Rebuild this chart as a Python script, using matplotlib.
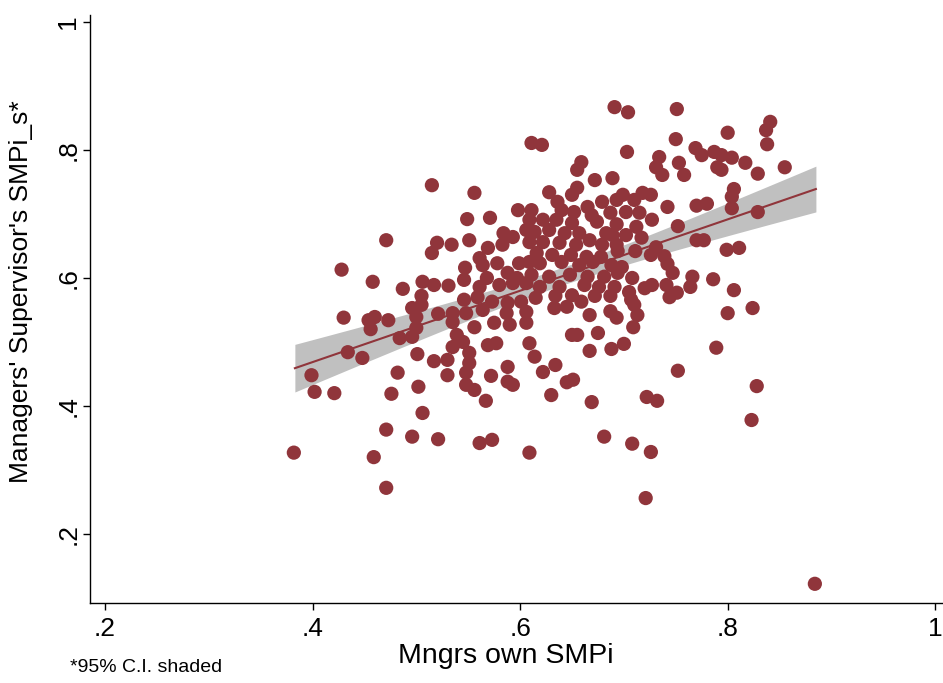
import numpy as np
import matplotlib
matplotlib.use('Agg')
import matplotlib.pyplot as plt

### Data #####################################################################
# Mngrs own SMPi (x) and Managers' Supervisor's SMPi_s (y)
smpi_own = [0.471, 0.428, 0.458, 0.487, 0.506, 0.517, 0.515, 0.520, 0.505, 0.496,
            0.505, 0.430, 0.460, 0.454, 0.456, 0.473, 0.500, 0.521, 0.500, 0.496,
            0.484, 0.434, 0.448, 0.501, 0.517, 0.399, 0.482, 0.402, 0.421, 0.476,
            0.502, 0.506, 0.471, 0.496, 0.521, 0.382, 0.459, 0.471,
            0.556, 0.549, 0.571, 0.598, 0.611, 0.609, 0.606, 0.584, 0.593, 0.583,
            0.609, 0.534, 0.551, 0.569, 0.561, 0.564, 0.578, 0.599, 0.609, 0.547,
            0.546, 0.568, 0.588, 0.597, 0.611, 0.531, 0.561, 0.580, 0.593, 0.606,
            0.546, 0.559, 0.573, 0.588, 0.601, 0.535, 0.548, 0.564, 0.587, 0.606,
            0.515,
            0.535, 0.556, 0.575, 0.590, 0.606, 0.539, 0.545, 0.535, 0.569, 0.577,
            0.609, 0.614, 0.530, 0.551, 0.551, 0.548, 0.530, 0.572, 0.588, 0.588,
            0.593, 0.548, 0.556, 0.567, 0.561, 0.573, 0.609,
            0.611, 0.621, 0.659, 0.655, 0.672, 0.689, 0.628, 0.655, 0.650, 0.636,
            0.679, 0.665, 0.693, 0.640, 0.652, 0.669, 0.687, 0.622, 0.635, 0.650,
            0.674, 0.693, 0.614, 0.628, 0.643, 0.657, 0.683, 0.622, 0.638, 0.654,
            0.667, 0.679, 0.693, 0.616, 0.631, 0.649, 0.664, 0.678, 0.619, 0.640,
            0.657, 0.670, 0.688, 0.628, 0.648, 0.665, 0.681, 0.694, 0.619, 0.638,
            0.662, 0.676, 0.691, 0.615, 0.634, 0.650, 0.672, 0.687,
            0.659, 0.645, 0.633, 0.667, 0.687, 0.693, 0.650, 0.655, 0.675, 0.667,
            0.688, 0.634, 0.622, 0.645, 0.651, 0.630, 0.669, 0.681,
            0.691, 0.704, 0.751, 0.750, 0.703, 0.734, 0.731, 0.737, 0.753, 0.758,
            0.769, 0.699, 0.718, 0.726, 0.710, 0.742, 0.770, 0.715, 0.727, 0.702,
            0.712, 0.752, 0.689, 0.702, 0.717, 0.731, 0.694, 0.711, 0.726, 0.739,
            0.742, 0.698, 0.708, 0.747, 0.766, 0.705, 0.720, 0.727, 0.741, 0.751,
            0.744, 0.764, 0.707, 0.710, 0.713, 0.709, 0.700, 0.752, 0.722, 0.732,
            0.708, 0.726, 0.721,
            0.841, 0.837, 0.838, 0.800, 0.775, 0.787, 0.794, 0.790, 0.794, 0.804,
            0.817, 0.829, 0.806, 0.804, 0.804, 0.780, 0.829, 0.770, 0.777, 0.799,
            0.811, 0.786, 0.806, 0.800, 0.824, 0.789, 0.828, 0.823, 0.855, 0.884]

smpi_sup = [0.659, 0.613, 0.594, 0.583, 0.594, 0.589, 0.639, 0.655, 0.572, 0.553,
            0.558, 0.538, 0.539, 0.534, 0.520, 0.534, 0.539, 0.544, 0.522, 0.508,
            0.506, 0.484, 0.475, 0.481, 0.470, 0.448, 0.452, 0.422, 0.420, 0.419,
            0.430, 0.389, 0.363, 0.352, 0.348, 0.327, 0.320, 0.272,
            0.733, 0.692, 0.694, 0.706, 0.706, 0.691, 0.675, 0.670, 0.664, 0.652,
            0.656, 0.652, 0.659, 0.647, 0.631, 0.620, 0.623, 0.623, 0.625, 0.616,
            0.597, 0.600, 0.608, 0.600, 0.605, 0.588, 0.586, 0.589, 0.592, 0.592,
            0.566, 0.570, 0.563, 0.561, 0.563, 0.545, 0.545, 0.550, 0.545, 0.547,
            0.745,
            0.531, 0.523, 0.530, 0.527, 0.530, 0.511, 0.500, 0.492, 0.495, 0.498,
            0.498, 0.477, 0.472, 0.483, 0.467, 0.452, 0.448, 0.447, 0.461, 0.438,
            0.433, 0.433, 0.425, 0.408, 0.342, 0.347, 0.327,
            0.811, 0.808, 0.781, 0.769, 0.753, 0.756, 0.734, 0.741, 0.730, 0.719,
            0.719, 0.711, 0.722, 0.706, 0.703, 0.698, 0.702, 0.691, 0.691, 0.686,
            0.688, 0.684, 0.672, 0.675, 0.670, 0.670, 0.670, 0.656, 0.655, 0.652,
            0.659, 0.652, 0.652, 0.639, 0.636, 0.636, 0.633, 0.633, 0.623, 0.625,
            0.620, 0.625, 0.620, 0.602, 0.605, 0.602, 0.602, 0.608, 0.586, 0.586,
            0.589, 0.586, 0.586, 0.569, 0.572, 0.573, 0.572, 0.572,
            0.563, 0.555, 0.553, 0.542, 0.548, 0.538, 0.511, 0.511, 0.514, 0.486,
            0.489, 0.464, 0.453, 0.437, 0.441, 0.417, 0.406, 0.352,
            0.867, 0.859, 0.864, 0.817, 0.797, 0.789, 0.773, 0.761, 0.780, 0.761,
            0.803, 0.730, 0.733, 0.730, 0.722, 0.711, 0.713, 0.702, 0.691, 0.703,
            0.680, 0.681, 0.667, 0.667, 0.663, 0.648, 0.642, 0.642, 0.636, 0.634,
            0.622, 0.617, 0.600, 0.608, 0.602, 0.578, 0.584, 0.589, 0.589, 0.577,
            0.570, 0.586, 0.566, 0.558, 0.542, 0.523, 0.497, 0.455, 0.414, 0.408,
            0.341, 0.328, 0.256,
            0.844, 0.831, 0.809, 0.827, 0.792, 0.797, 0.792, 0.773, 0.769, 0.788,
            0.780, 0.763, 0.739, 0.727, 0.709, 0.716, 0.703, 0.659, 0.659, 0.644,
            0.647, 0.598, 0.581, 0.545, 0.553, 0.491, 0.431, 0.378, 0.773, 0.122]

# fitted line (ends of the lfit line)
fit_x = [0.383, 0.885]
fit_y = [0.459, 0.739]

xtick_vals = [0.2, 0.4, 0.6, 0.8, 1.0]
xtick_labels = ['.2', '.4', '.6', '.8', '1']
ytick_vals = [0.2, 0.4, 0.6, 0.8, 1.0]
ytick_labels = ['.2', '.4', '.6', '.8', '1']

### 95% CI band around the fit (like Stata lfitci) ############################
x = np.array(smpi_own)
y = np.array(smpi_sup)
n = len(x)
b = (fit_y[1] - fit_y[0]) / (fit_x[1] - fit_x[0])
a = fit_y[0] - b * fit_x[0]
resid = y - (a + b * x)
s = np.sqrt(np.sum(resid ** 2) / (n - 2))
sxx = np.sum((x - x.mean()) ** 2)
t_crit = 1.97

xg = np.linspace(fit_x[0], fit_x[1], 100)
yg = a + b * xg
se = s * np.sqrt(1.0 / n + (xg - x.mean()) ** 2 / sxx)

### Plot ######################################################################
plt.rcParams['font.family'] = ['Liberation Sans', 'DejaVu Sans']
fig = plt.figure(figsize=(9.43, 6.83), dpi=100)
ax = fig.add_axes([90 / 943, 80 / 683, 852 / 943, 588 / 683])

col = '#90353B'
ax.fill_between(xg, yg - t_crit * se, yg + t_crit * se, color='#C0C0C0', lw=0, zorder=1)
ax.plot(xg, yg, color=col, lw=1.5, zorder=2)
ax.scatter(x, y, s=105, color=col, edgecolors='none', zorder=3)

ax.set_xlim(0.1856, 1.0065)
ax.set_ylim(0.092, 1.011)
ax.set_xticks(xtick_vals)
ax.set_xticklabels(xtick_labels)
ax.set_yticks(ytick_vals)
ax.set_yticklabels(ytick_labels, rotation=90, va='center')
ax.tick_params(direction='out', length=5, width=1, labelsize=19)
ax.tick_params(axis='x', pad=5)
ax.tick_params(axis='y', pad=2)

for side in ['top', 'right']:
    ax.spines[side].set_visible(False)
for side in ['left', 'bottom']:
    ax.spines[side].set_linewidth(1)

ax.set_xlabel('Mngrs own SMPi', fontsize=20.5)
ax.xaxis.set_label_coords(0.488, -0.068)
ax.set_ylabel("Managers' Supervisor's SMPi_s*", fontsize=19)
ax.yaxis.set_label_coords(-0.067, 0.53)
fig.text(70 / 943, 1 - 668 / 683, '*95% C.I. shaded', fontsize=14, va='center', ha='left')

fig.savefig('out.png', dpi=100)
